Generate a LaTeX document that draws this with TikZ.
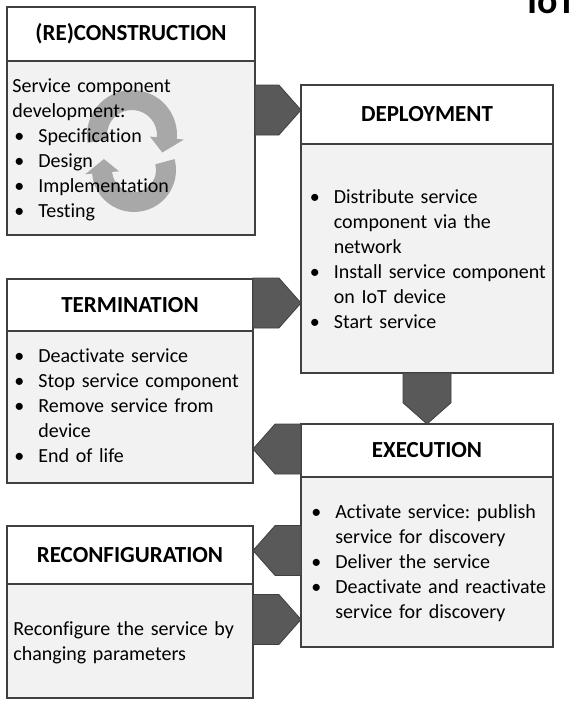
\documentclass[tikz,border=0pt]{standalone}
\usepackage{fontspec}
\setmainfont{Carlito}[Ligatures=NoCommon]
\usetikzlibrary{positioning,calc,shapes.arrows}
\frenchspacing

\definecolor{boxline}{RGB}{64,64,64}
\definecolor{boxfill}{RGB}{242,242,242}
\definecolor{arrowfill}{RGB}{89,89,89}
\definecolor{cyclegray}{RGB}{168,168,168}

\newcommand{\bul}{\makebox[24pt][l]{\textbullet}}
\newcommand{\ind}{\hspace*{24pt}}

\tikzset{every picture/.style={line width=0.75pt}}

\begin{document}
\begin{tikzpicture}[x=1pt,y=1pt,yscale=-1,xscale=1,
  headbox/.style={draw=boxline, line width=1.2pt, fill=white, inner sep=0pt, outer sep=0pt, font=\fontsize{23}{28}\selectfont\bfseries},
  bodybox/.style={draw=boxline, line width=1.2pt, fill=boxfill, inner sep=0pt, outer sep=0pt},
  bodytext/.style={inner sep=0pt, anchor=base west, align=left, text width=236pt, font=\fontsize{20}{25}\selectfont},
  blockarrow/.style={single arrow, single arrow head extend=0pt, single arrow tip angle=97, draw=boxline, fill=arrowfill, line width=0.8pt, inner sep=0pt, outer sep=0pt, minimum width=50pt, anchor=tail}]
\useasboundingbox (0,0) rectangle (587,705);

%Shape: Rectangle (RE)CONSTRUCTION
\node[headbox, minimum width=248pt, minimum height=54pt] (reconHead) at (131,34) {(RE)CONSTRUCTION};
\node[bodybox, minimum width=248pt, minimum height=174pt, below=0pt of reconHead] (reconBody) {};
%Shape: Rectangle DEPLOYMENT
\node[headbox, minimum width=252pt, minimum height=59pt] (deployHead) at (427,114.5) {DEPLOYMENT};
\node[bodybox, minimum width=252pt, minimum height=229pt, below=0pt of deployHead] (deployBody) {};
%Shape: Rectangle TERMINATION
\node[headbox, minimum width=246pt, minimum height=52pt] (termHead) at (130,305) {TERMINATION};
\node[bodybox, minimum width=246pt, minimum height=152pt, below=0pt of termHead] (termBody) {};
%Shape: Rectangle EXECUTION
\node[headbox, minimum width=252pt, minimum height=53pt] (execHead) at (427,450.5) {EXECUTION};
\node[bodybox, minimum width=252pt, minimum height=170pt, below=0pt of execHead] (execBody) {};
%Shape: Rectangle RECONFIGURATION
\node[headbox, minimum width=246pt, minimum height=58pt] (reconfHead) at (130,555) {RECONFIGURATION};
\node[bodybox, minimum width=246pt, minimum height=114pt, below=0pt of reconfHead] (reconfBody) {};

%Block Arrows
\node[blockarrow, minimum height=46pt] (arrReconDeploy) at (reconBody.east |- 0,110) {};
\node[blockarrow, minimum height=48pt] (arrTermDeploy) at (termHead.east |- 0,303) {};
\node[blockarrow, minimum height=51pt, minimum width=48pt, rotate=-90] (arrDeployExec) at (deployBody.south) {};
\node[blockarrow, minimum height=48pt, rotate=180] (arrExecTerm) at (execHead.west |- 0,449) {};
\node[blockarrow, minimum height=48pt, rotate=180] (arrExecReconf) at (execBody.west |- 0,550.5) {};
\node[blockarrow, minimum height=48pt] (arrReconfExec) at (reconfBody.east |- 0,619.5) {};

%Shape: Circular Arrows
\coordinate (cycUp) at (132,135);
\coordinate (cycLow) at (134,170);
\fill[cyclegray] ($(cycUp)+(170:45)$) arc[start angle=170, end angle=365, radius=45] -- ($(cycUp)+(365:52)$) -- ($(cycUp)+(390:35)$) -- ($(cycUp)+(365:18)$) -- ($(cycUp)+(365:25)$) arc[start angle=365, end angle=170, radius=25] -- cycle;
\fill[cyclegray] ($(cycLow)+(-15:42)$) arc[start angle=-15, end angle=175, radius=42] -- ($(cycLow)+(175:49)$) -- ($(cycLow)+(200:32)$) -- ($(cycLow)+(175:15)$) -- ($(cycLow)+(175:22)$) arc[start angle=175, end angle=-15, radius=22] -- cycle;

% Text Node
\node[bodytext] (reconText) at (12,92) {Service component\\
development:\\
\hspace*{2pt}\bul Specification\\
\hspace*{2pt}\bul Design\\
\hspace*{2pt}\bul Implementation\\
\hspace*{2pt}\bul Testing};
% Text Node
\node[bodytext] (deployText) at (309.5,203) {\bul Distribute service\\
\ind component via the\\
\ind network\\
\bul Install service component\\
\ind on IoT device\\
\bul Start service};
% Text Node
\node[bodytext] (termText) at (14,362) {\bul Deactivate service\\
\bul Stop service component\\
\bul Remove service from\\
\ind device\\
\bul End of life};
% Text Node
\node[bodytext] (execText) at (311,518) {\bul Activate service: publish\\
\ind service for discovery\\
\bul Deliver the service\\
\bul Deactivate and reactivate\\
\ind service for discovery};
% Text Node
\node[bodytext] (reconfText) at (13,635) {Reconfigure the service by\\
changing parameters};
% Text Node
\node[anchor=base west, inner sep=0pt, font=\fontsize{38}{40}\selectfont\bfseries] (iotLabel) at (527,13) {IoT};

\end{tikzpicture}
\end{document}
